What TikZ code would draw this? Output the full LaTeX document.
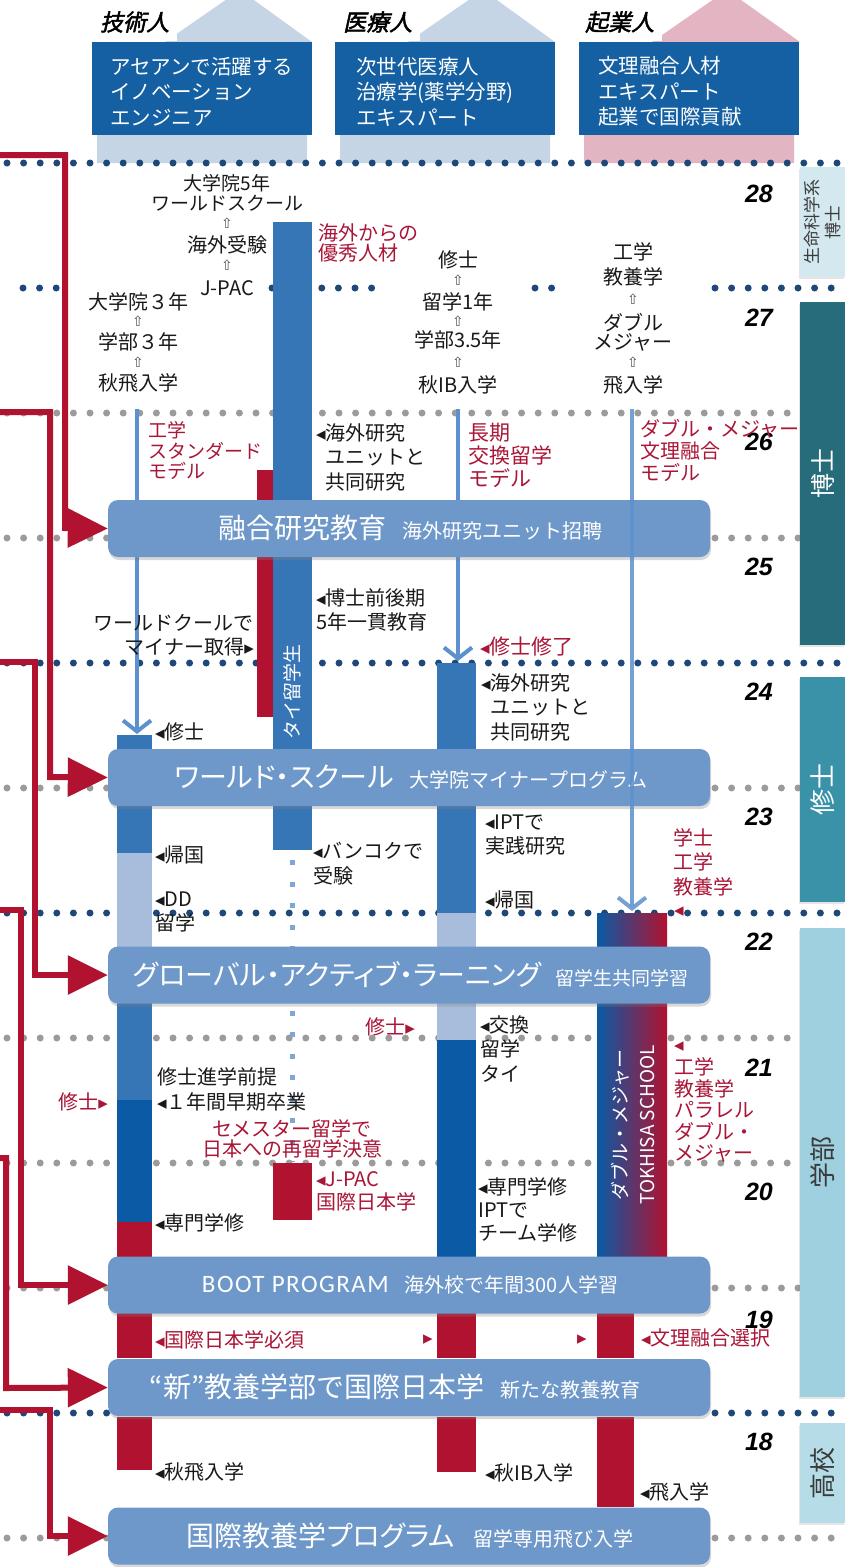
\documentclass[tikz,border=0pt]{standalone}
\usepackage{fontspec}
\setmainfont{Noto Sans CJK JP}
\newfontfamily\jpp[RawFeature=+palt]{Noto Sans CJK JP}
\newfontfamily\jpbi[FakeSlant=0.22,FakeBold=2]{Noto Sans CJK JP}
\newfontfamily\dvf{DejaVu Sans}
\newfontfamily\yrf{Liberation Sans}
\newfontfamily\carl[LetterSpace=6]{Carlito}
\usetikzlibrary{arrows.meta,shadows}
\definecolor{hdr}{RGB}{20,96,162}
\definecolor{wb}{RGB}{110,152,202}
\definecolor{bb}{RGB}{55,118,182}
\definecolor{deep}{RGB}{10,90,165}
\definecolor{pale}{RGB}{168,189,219}
\definecolor{rbar}{RGB}{176,18,48}
\definecolor{rtxt}{RGB}{170,22,55}
\definecolor{thin}{RGB}{92,145,205}
\definecolor{dotd}{RGB}{30,72,120}
\definecolor{dotg}{RGB}{155,155,155}
\definecolor{roofb}{RGB}{198,213,230}
\definecolor{roofp}{RGB}{227,180,193}
\definecolor{sA}{RGB}{212,232,240}
\definecolor{sB}{RGB}{38,108,122}
\definecolor{sC}{RGB}{58,146,168}
\definecolor{sD}{RGB}{158,208,223}
\definecolor{sE}{RGB}{182,220,232}
\definecolor{txt}{RGB}{25,25,25}
\newcommand\tril{{\dvf\fontsize{19}{19}\selectfont ◂}}
\newcommand\trir{{\dvf\fontsize{19}{19}\selectfont ▸}}
\begin{document}
\begin{tikzpicture}[x=1pt,y=-1pt,
  lbl/.style={inner sep=0pt,anchor=west,align=left,text=txt,font=\fontsize{20}{24.5}\selectfont},
  rlbl/.style={lbl,text=rtxt},
  clbl/.style={inner sep=0pt,align=center,text=txt,font=\fontsize{20}{22}\selectfont},
  uparr/.style={inner sep=0pt,text=txt!75,font=\dvf\fontsize{14}{14}\selectfont},
  yrlbl/.style={inner sep=0pt,anchor=east,text=black,font=\yrf\bfseries\itshape\fontsize{25}{25}\selectfont},
  hlbl/.style={inner sep=0pt,anchor=west,text=black,font=\jpbi\fontsize{23}{23}\selectfont},
  hbox/.style={fill=hdr,minimum width=220pt,minimum height=93pt,inner sep=0pt},
  htxt/.style={inner sep=0pt,anchor=west,align=left,text=white,font=\fontsize{20.5}{25.5}\selectfont},
  wbox/.style={fill=wb,rounded corners=10pt,minimum width=602pt,minimum height=57pt,inner sep=0pt,
    drop shadow={shadow xshift=1pt,shadow yshift=-3pt,opacity=0.3}},
  wtxt/.style={inner sep=0pt,text=white},
  sbar/.style={minimum width=45pt,inner sep=0pt,anchor=north west,
    drop shadow={shadow xshift=-1pt,shadow yshift=-2pt,opacity=0.2}},
  stxt/.style={inner sep=0pt,rotate=90,align=center},
  redarr/.style={draw=rbar,line width=6pt,-{Triangle[length=40pt,width=38pt]}},
  thinarr/.style={draw=thin,line width=4pt,-{Straight Barb[length=11pt,width=28pt]}},
  dd/.style={draw=dotd,line width=7pt,line cap=round,dash pattern=on 0pt off 16.6pt},
  dg/.style={dd,draw=dotg},
]
\useasboundingbox (0,0) rectangle (845,1567);
\fill[white] (0,0) rectangle (845,1567);

% houses
\fill[roofb] (97,163) -- (97,42) -- (165,42) -- (240,-10) -- (312,42) -- (307,42) -- (307,163) -- cycle;
\fill[roofb] (340,163) -- (340,42) -- (408,42) -- (483,-10) -- (555,42) -- (550,42) -- (550,163) -- cycle;
\fill[roofp] (584,163) -- (584,42) -- (652,42) -- (727,-10) -- (800,42) -- (794,42) -- (794,163) -- cycle;

\node[hbox] (H1) at (202,88.5) {};
\node[hbox] (H2) at (445,88.5) {};
\node[hbox] (H3) at (689,88.5) {};
\node[htxt] (H1t) at (110,91.5) {アセアンで活躍する\\イノベーション\\エンジニア};
\node[htxt] (H2t) at (356,91.5) {次世代医療人\\治療学(薬学分野)\\エキスパート};
\node[htxt] (H3t) at (598,91.5) {文理融合人材\\エキスパート\\起業で国際貢献};
\node[hlbl,fill=white,inner xsep=8pt,inner ysep=8pt] (H1l) at (92,22) {技術人};
\node[hlbl,fill=white,inner xsep=8pt,inner ysep=8pt] (H2l) at (335,22) {医療人};
\node[hlbl,fill=white,inner xsep=8pt,inner ysep=8pt] (H3l) at (577,22) {起業人};

% dotted year lines
\draw[dd] (7,163) -- (845,163);
\draw[dd] (23,288) -- (60,288);
\draw[dd] (272,288) -- (388,288);
\draw[dd] (535,288) -- (555,288);
\draw[dd] (715,288) -- (845,288);
\draw[dg] (7,413) -- (800,413);
\draw[dg] (7,538) -- (110,538);
\draw[dg] (715,538) -- (800,538);
\draw[dd] (7,663) -- (845,663);
\draw[dg] (7,788) -- (110,788);
\draw[dg] (715,788) -- (800,788);
\draw[dd] (7,913) -- (845,913);
\draw[dg] (7,1038) -- (800,1038);
\draw[dg] (7,1163) -- (800,1163);
\draw[dg] (7,1288) -- (110,1288);
\draw[dg] (715,1288) -- (800,1288);
\draw[dd] (7,1413) -- (110,1413);
\draw[dd] (715,1413) -- (845,1413);
\draw[dg] (7,1538) -- (110,1538);
\draw[dg] (715,1538) -- (845,1538);

% side bars
\node[sbar,fill=sA,minimum height=110pt] (S1) at (800,167) {};
\node[sbar,fill=sB,minimum height=343pt] (S2) at (800,302) {};
\node[sbar,fill=sC,minimum height=225pt] (S3) at (800,677) {};
\node[sbar,fill=sD,minimum height=469pt] (S4) at (800,928) {};
\node[sbar,fill=sE,minimum height=100pt] (S5) at (800,1423) {};
\node[stxt,text=txt!85,font=\fontsize{17}{21}\selectfont] (S1t) at (S1.center) {生命科学系\\博士};
\node[stxt,text=white,font=\fontsize{25}{25}\selectfont] (S2t) at (S2.center) {博士};
\node[stxt,text=white,font=\fontsize{26}{26}\selectfont] (S3t) at (S3.center) {修士};
\node[stxt,text=txt!85,font=\fontsize{26}{26}\selectfont] (S4t) at (S4.center) {学部};
\node[stxt,text=txt!85,font=\fontsize{26}{26}\selectfont] (S5t) at (S5.center) {高校};

% year numbers
\node[yrlbl] (y28) at (773,194) {28};
\node[yrlbl] (y27) at (773,318) {27};
\node[yrlbl] (y26) at (773,442) {26};
\node[yrlbl] (y25) at (773,567) {25};
\node[yrlbl] (y24) at (773,692) {24};
\node[yrlbl] (y23) at (773,817) {23};
\node[yrlbl] (y22) at (773,942) {22};
\node[yrlbl] (y21) at (773,1068) {21};
\node[yrlbl] (y20) at (773,1192) {20};
\node[yrlbl] (y19) at (773,1320) {19};
\node[yrlbl] (y18) at (773,1442) {18};

% column bars
% A
\fill[bb] (117,735) rectangle (152,853);
\fill[pale] (117,853) rectangle (152,947);
\fill[bb] (117,1003) rectangle (152,1100);
\fill[deep] (117,1100) rectangle (152,1222);
\fill[rbar] (117,1222) rectangle (152,1257);
\fill[rbar] (117,1313) rectangle (152,1358);
\fill[rbar] (117,1417) rectangle (152,1470);
% B
\fill[rbar] (257,470) rectangle (275,717);
\fill[bb] (273,222) rectangle (312,850);
\draw[draw=thin!80,line width=5pt,dash pattern=on 5pt off 16.5pt] (292,860) -- (292,1162);
\fill[rbar] (273,1163) rectangle (312,1220);
% C
\fill[bb] (437,663) rectangle (476,913);
\fill[pale] (437,913) rectangle (476,947);
\fill[pale] (437,1003) rectangle (476,1040);
\fill[deep] (437,1040) rectangle (476,1257);
\fill[rbar] (437,1313) rectangle (476,1358);
\fill[rbar] (437,1417) rectangle (476,1472);
% D
\shade[left color=deep,right color=rbar] (597,913) rectangle (667,1257);
\fill[rbar] (597,1313) rectangle (634,1358);
\fill[rbar] (597,1417) rectangle (634,1507);

\node[stxt,text=white,font=\fontsize{19}{21}\selectfont] (Bt) at (292,692) {タイ留学生};
\node[stxt,text=white,font=\fontsize{19}{27}\selectfont] (Dt) at (633,1125) {ダブル・メジャー\\TOKHISA SCHOOL};

% thin arrows A and C (behind boxes)
\coordinate (aA) at (137,409);
\coordinate (eA) at (137,734);
\coordinate (aC) at (458,409);
\coordinate (eC) at (458,661);
\draw[thinarr] (aA) -- (eA);
\draw[thinarr] (aC) -- (eC);

% wide boxes
\node[wbox] (B1) at (409,528.5) {};
\node[wbox] (B2) at (409,777.5) {};
\node[wbox] (B3) at (409,975) {};
\node[wbox] (B4) at (409,1285) {};
\node[wbox] (B5) at (409,1387.5) {};
\node[wbox] (B6) at (409,1536) {};
\node[wtxt] (B1t) at (410,528) {{\fontsize{28}{30}\selectfont 融合研究教育}\hspace{16pt}{\fontsize{20}{22}\selectfont 海外研究ユニット招聘}};
\node[wtxt] (B2t) at (411,777) {{\jpp\fontsize{28}{30}\selectfont ワールド・スクール}\hspace{16pt}{\fontsize{20}{22}\selectfont 大学院マイナープログラム}};
\node[wtxt] (B3t) at (411,975) {{\jpp\fontsize{28}{30}\selectfont グローバル・アクティブ・ラーニング}\hspace{14pt}{\fontsize{19}{22}\selectfont 留学生共同学習}};
\node[wtxt] (B4t) at (410,1285) {{\carl\fontsize{25}{30}\selectfont BOOT PROGRAM}\hspace{16pt}{\fontsize{20}{22}\selectfont 海外校で年間300人学習}};
\node[wtxt] (B5t) at (395,1387) {{\fontsize{28}{30}\selectfont “新”教養学部で国際日本学}\hspace{16pt}{\fontsize{20}{22}\selectfont 新たな教養教育}};
\node[wtxt] (B6t) at (410,1536) {{\jpp\fontsize{28}{30}\selectfont 国際教養学プログラム}\hspace{18pt}{\fontsize{20}{22}\selectfont 留学専用飛び入学}};

% thin arrow D (over boxes)
\coordinate (aD) at (632,409);
\coordinate (eD) at (632,911);
\draw[thinarr,opacity=0.85] (aD) -- (eD);

% red arrows
\coordinate (r1) at (0,155);
\coordinate (r2) at (0,412);
\coordinate (r3) at (0,662);
\coordinate (r4) at (0,910);
\coordinate (r5) at (0,1158);
\coordinate (r6) at (0,1410);
\draw[redarr] (r1) -| (65,528) -- (B1.west);
\draw[redarr] (r2) -| (50,777) -- (B2.west);
\draw[redarr] (r3) -| (35,975) -- (B3.west);
\draw[redarr] (r4) -| (21,1285) -- (B4.west);
\draw[redarr] (r5) -| (6,1388) -- (B5.west);
\draw[redarr] (r6) -| (50,1536) -- (B6.west);

% top pathway labels
\node[clbl,font=\fontsize{19}{20}\selectfont] (t1) at (227,192.5) {大学院5年\\ワールドスクール};
\node[uparr] (u1) at (227,223) {⇧};
\node[clbl] (t2) at (227,245) {海外受験};
\node[uparr] (u2) at (227,265) {⇧};
\node[clbl] (t3) at (227,288) {J-PAC};
\node[clbl] (a1) at (138,302) {大学院３年};
\node[uparr] (u3) at (138,321) {⇧};
\node[clbl] (a2) at (138,342) {学部３年};
\node[uparr] (u4) at (138,362) {⇧};
\node[clbl] (a3) at (138,383) {秋飛入学};
\node[clbl] (c1) at (458,260) {修士};
\node[uparr] (u5) at (458,280) {⇧};
\node[clbl] (c2) at (458,302) {留学1年};
\node[uparr] (u6) at (458,321) {⇧};
\node[clbl] (c3) at (458,340) {学部3.5年};
\node[uparr] (u7) at (458,362) {⇧};
\node[clbl] (c4) at (458,385) {秋IB入学};
\node[clbl,font=\fontsize{20}{25}\selectfont] (d1) at (633,264.5) {工学\\教養学};
\node[uparr] (u8) at (633,299) {⇧};
\node[clbl,font=\fontsize{20}{19}\selectfont] (d2) at (633,332) {ダブル\\メジャー};
\node[uparr] (u9) at (633,362) {⇧};
\node[clbl] (d3) at (633,385) {飛入学};
\node[rlbl,font=\fontsize{20}{20}\selectfont] (k1) at (318,243) {海外からの\\優秀人材};

% model labels
\node[rlbl,font=\fontsize{19}{20.5}\selectfont] (m1) at (148,451) {工学\\スタンダード\\モデル};
\node[rlbl,font=\fontsize{21}{23}\selectfont] (m2) at (468,455) {長期\\交換留学\\モデル};
\node[rlbl,font=\fontsize{20}{22}\selectfont] (m3) at (640,450) {ダブル・メジャー\\文理融合\\モデル};

% column B labels
\node[lbl] (b1) at (316,457) {\tril 海外研究\\\hphantom{\tril}ユニットと\\\hphantom{\tril}共同研究};
\node[lbl] (b2) at (316,610) {\tril 博士前後期\\5年一貫教育};
\node[lbl,anchor=east,align=right] (b3) at (254,635) {ワールドクールで\\マイナー取得\trir};
\node[lbl] (b4) at (313,863.5) {\tril バンコクで\\受験};
\node[rlbl,align=center,anchor=center,font=\fontsize{20}{18.5}\selectfont] (b5) at (292,1139) {セメスター留学で\\日本への再留学決意};
\node[rlbl,font=\fontsize{20}{23}\selectfont] (b6) at (316,1191.5) {\tril J-PAC\\国際日本学};

% column A labels
\node[lbl] (l1) at (155,732) {\tril 修士};
\node[lbl] (l2) at (155,855) {\tril 帰国};
\node[lbl,font=\fontsize{20}{24}\selectfont] (l3) at (155,912) {\tril DD\\留学};
\node[lbl,font=\fontsize{20}{25}\selectfont] (l4) at (157,1089.5) {修士進学前提\\\tril １年間早期卒業};
\node[rlbl,anchor=east] (l5) at (108,1102) {修士\trir};
\node[lbl] (l6) at (155,1223) {\tril 専門学修};
\node[rlbl] (l7) at (155,1340) {\tril 国際日本学必須};
\node[lbl] (l8) at (155,1472) {\tril 秋飛入学};

% column C labels
\node[rlbl,font=\fontsize{21}{23}\selectfont] (n1) at (480,646) {\tril 修士修了};
\node[lbl] (n2) at (481,707) {\tril 海外研究\\\hphantom{\tril}ユニットと\\\hphantom{\tril}共同研究};
\node[lbl] (n3) at (485,835) {\tril IPTで\\実践研究};
\node[lbl] (n4) at (485,900) {\tril 帰国};
\node[rlbl,anchor=east] (n5) at (415,1027) {修士\trir};
\node[lbl] (n6) at (480,1049) {\tril 交換\\留学\\タイ};
\node[lbl,font=\fontsize{20}{23}\selectfont] (n7) at (478,1210) {\tril 専門学修\\IPTで\\チーム学修};
\node[rlbl] (n8) at (423,1340) {\trir};
\node[lbl] (n9) at (485,1473) {\tril 秋IB入学};

% column D labels
\node[rlbl] (p1) at (673,862) {学士\\工学\\教養学};
\node[rlbl] (p2) at (674,912) {\tril};
\node[rlbl] (p3) at (674,1047) {\tril};
\node[rlbl,font=\fontsize{20}{21.5}\selectfont] (p4) at (674,1110) {工学\\教養学\\パラレル\\ダブル・\\メジャー};
\node[rlbl] (p5) at (577,1340) {\trir};
\node[rlbl] (p6) at (641,1338) {\tril 文理融合選択};
\node[lbl] (p7) at (640,1492) {\tril 飛入学};
\end{tikzpicture}
\end{document}
